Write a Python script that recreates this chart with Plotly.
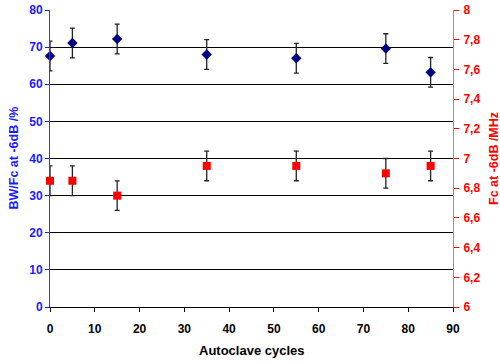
import plotly.graph_objects as go

cycles = [0, 5, 15, 35, 55, 75, 85]
bw_fc = [67.6, 71.1, 72.2, 68.0, 67.0, 69.6, 63.2]
bw_fc_err = [4, 4, 4, 4, 4, 4, 4]
fc_mhz = [6.85, 6.85, 6.75, 6.95, 6.95, 6.90, 6.95]
fc_err = [0.1, 0.1, 0.1, 0.1, 0.1, 0.1, 0.1]

x_ticks = [0, 10, 20, 30, 40, 50, 60, 70, 80, 90]
left_ticks = [0, 10, 20, 30, 40, 50, 60, 70, 80]
right_ticks = [6.0, 6.2, 6.4, 6.6, 6.8, 7.0, 7.2, 7.4, 7.6, 7.8, 8.0]
right_labels = ["6", "6,2", "6,4", "6,6", "6,8", "7", "7,2", "7,4", "7,6", "7,8", "8"]

FONT = "Liberation Sans, Arial, sans-serif"
BLUE = "#1a1aff"
RED = "#ff0000"

fig = go.Figure()
fig.add_trace(go.Scatter(
    x=cycles, y=bw_fc, mode="markers", name="BW/Fc",
    marker=dict(symbol="diamond", size=8, color="#000080"),
    error_y=dict(type="data", array=bw_fc_err, color="#222222", thickness=1.3, width=2.5),
    cliponaxis=False, yaxis="y"))
fig.add_trace(go.Scatter(
    x=cycles, y=fc_mhz, mode="markers", name="Fc",
    marker=dict(symbol="square", size=8, color=RED),
    error_y=dict(type="data", array=fc_err, color="#222222", thickness=1.3, width=2.5),
    cliponaxis=False, yaxis="y2"))

W, H = 500, 364
L, R, T, B = 50, 47, 10, 57
PW, PH = W - L - R, H - T - B

fig.update_layout(
    width=W, height=H,
    margin=dict(l=L, r=R, t=T, b=B),
    paper_bgcolor="white", plot_bgcolor="white",
    showlegend=False,
    font=dict(family=FONT, size=12, weight="bold"),
    xaxis=dict(range=[0, 90], tickvals=x_ticks, showgrid=False, zeroline=False, automargin=False,
               showline=True, linecolor="black", linewidth=1,
               ticks="outside", ticklen=4, tickcolor="black", ticklabelstandoff=7,
               tickfont=dict(family=FONT, size=12, color="black", weight="bold")),
    yaxis=dict(range=[0, 80], tickvals=left_ticks, showgrid=True, gridcolor="black", gridwidth=1,
               zeroline=False, showline=True, linecolor="#3333ff", linewidth=1, automargin=False,
               ticks="outside", ticklen=4, tickcolor=BLUE,
               tickfont=dict(family=FONT, size=12, color=BLUE, weight="bold")),
    yaxis2=dict(range=[6, 8], tickvals=right_ticks, ticktext=right_labels, overlaying="y", side="right",
                showgrid=False, zeroline=False, showline=True, linecolor="#ff6666", linewidth=1,
                automargin=False,
                ticks="outside", ticklen=5, tickcolor=RED, ticklabelstandoff=2,
                tickfont=dict(family=FONT, size=12, color=RED, weight="bold")),
)

fig.add_annotation(text="BW/Fc at -6dB /%", xref="paper", yref="paper",
                   x=-(L - 13) / PW, y=0.5, textangle=-90, showarrow=False,
                   font=dict(family=FONT, size=12.5, color=BLUE, weight="bold"),
                   xanchor="center", yanchor="middle")
fig.add_annotation(text="Fc at -6dB /MHz", xref="paper", yref="paper",
                   x=1 + (493.5 - (W - R)) / PW, y=0.5, textangle=-90, showarrow=False,
                   font=dict(family=FONT, size=12.5, color=RED, weight="bold"),
                   xanchor="center", yanchor="middle")
fig.add_annotation(text="Autoclave cycles", xref="paper", yref="paper",
                   x=0.5, y=-(350 - (H - B)) / PH, showarrow=False,
                   font=dict(family=FONT, size=13, color="black", weight="bold"),
                   xanchor="center", yanchor="middle")

fig.write_html("out.html",
               config={"displayModeBar": False},
               post_script="document.body.style.margin='0';document.body.style.overflow='hidden';")
